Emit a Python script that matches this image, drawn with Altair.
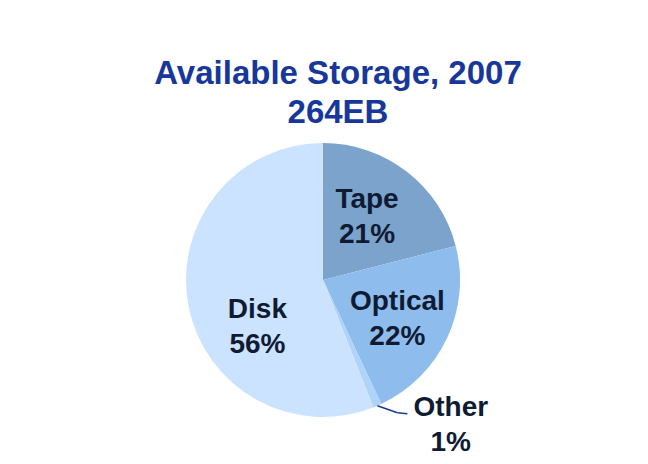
import altair as alt
import pandas as pd

categories = ["Tape", "Optical", "Other", "Disk"]
shares = [21, 22, 1, 56]
colors = ["#7BA3CB", "#8EBDED", "#AFD3F9", "#CCE3FF"]
title_lines = ["Available Storage, 2007", "264EB"]

total = sum(shares)
df = pd.DataFrame({"idx": list(range(len(categories))), "category": categories, "share": shares})

R = 137
LR = 80
W, H = 630, 290

base = alt.Chart(df).transform_window(
    cum="sum(share)", sort=[alt.SortField("idx")], frame=[None, 0]
).transform_calculate(
    start="datum.cum - datum.share",
    end="datum.cum",
    ang=f"(datum.cum - datum.share/2) / {total} * 2 * PI",
    label="[datum.category, format(datum.share, 'd') + '%']",
).transform_calculate(
    lx=f"{LR} * sin(datum.ang)",
    ly=f"-{LR} * cos(datum.ang)",
    ex=f"{R} * sin(datum.ang)",
    ey=f"-{R} * cos(datum.ang)",
)

xs = alt.Scale(domain=[-W / 2, W / 2], nice=False, zero=False)
ys = alt.Scale(domain=[-H / 2, H / 2], nice=False, zero=False, reverse=True)

arcs = base.mark_arc(radius=R).encode(
    theta=alt.Theta("start:Q", scale=alt.Scale(domain=[0, total])),
    theta2="end:Q",
    color=alt.Color("category:N", scale=alt.Scale(domain=categories, range=colors), legend=None),
)

offsets = {"Tape": (-5, -9), "Optical": (2, -4), "Other": (96, 63), "Disk": (13, 23)}
texts = []
for c in categories:
    dx, dy = offsets[c]
    texts.append(
        base.transform_filter(alt.datum.category == c).mark_text(
            font="Liberation Sans", fontSize=28, fontWeight="bold", color="#0F1B33",
            align="center", baseline="alphabetic", lineHeight=35, dx=dx, dy=dy,
        ).encode(
            x=alt.X("lx:Q", scale=xs, axis=None),
            y=alt.Y("ly:Q", scale=ys, axis=None),
            text="label:N",
        )
    )

leader_src = base.transform_filter(alt.datum.category == "Other").transform_calculate(
    x1="datum.ex + 20", y1="datum.ey + 7", x2="datum.ex + 30", y2="datum.ey + 8"
)
seg1 = leader_src.mark_rule(color="#1A3A99", strokeWidth=1.6).encode(
    x=alt.X("ex:Q", scale=xs, axis=None), x2="x1:Q",
    y=alt.Y("ey:Q", scale=ys, axis=None), y2="y1:Q",
)
seg2 = leader_src.mark_rule(color="#1A3A99", strokeWidth=1.6).encode(
    x=alt.X("x1:Q", scale=xs, axis=None), x2="x2:Q",
    y=alt.Y("y1:Q", scale=ys, axis=None), y2="y2:Q",
)

chart = alt.layer(arcs, *texts, seg1, seg2).properties(
    width=W, height=H,
    title=alt.TitleParams(
        text=title_lines, font="Liberation Sans", fontSize=33, fontWeight="bold",
        color="#17389A", anchor="middle", lineHeight=39, offset=5, dx=15,
    ),
    autosize=alt.AutoSizeParams(type="none"),
    padding={"top": 127, "bottom": 33, "left": 0, "right": 0},
).configure_view(stroke=None)

chart.save("out.html", embed_options={"renderer": "svg", "actions": False})
